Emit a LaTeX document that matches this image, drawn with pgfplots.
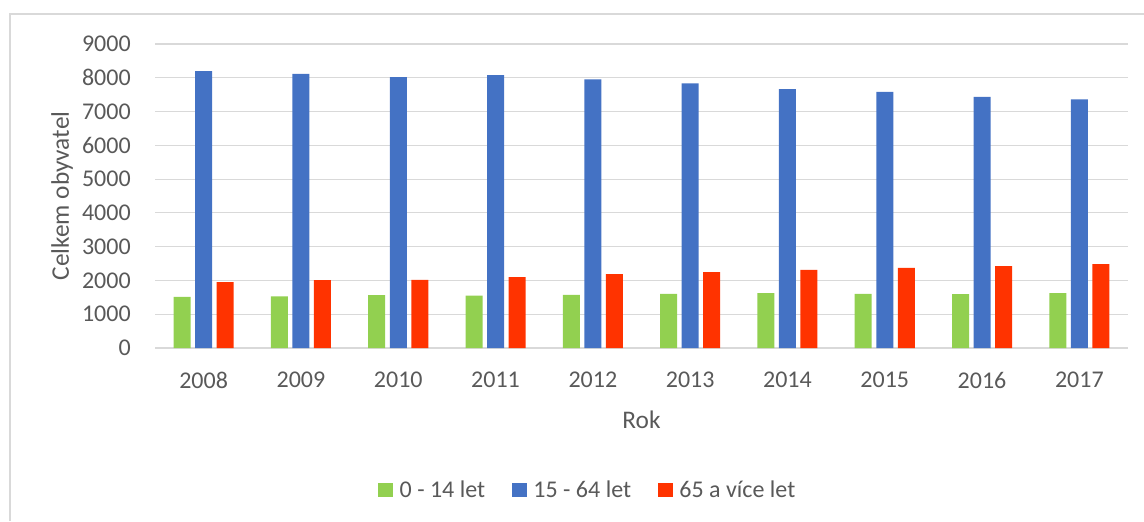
\documentclass[border=0pt]{standalone}
\usepackage{fontspec}
\setmainfont{Carlito}
\usepackage{pgfplots}
\pgfplotsset{compat=1.18}
\definecolor{cgreen}{HTML}{92D050}
\definecolor{cblue}{HTML}{4472C4}
\definecolor{cred}{HTML}{FF3300}
\definecolor{cgrid}{HTML}{D9D9D9}
\definecolor{ctext}{HTML}{595959}
\begin{document}
\begin{tikzpicture}
\draw[cgrid, line width=0.9pt] (7.5pt,0pt) -- (7.5pt,380.25pt) -- (858pt,380.25pt);
\node[rotate=90, anchor=center, font=\fontsize{19}{22}\selectfont, text=ctext] at (46.5pt,243.75pt) {Celkem obyvatel};
\begin{axis}[
  at={(116.25pt,129.75pt)}, anchor=south west,
  width=729.75pt, height=228pt, scale only axis,
  ybar=3.4pt, bar width=12.75pt,
  xmin=-0.5, xmax=9.5, ymin=0, ymax=9000,
  xtick=data,
  xticklabels={2008,2009,2010,2011,2012,2013,2014,2015,2016,2017},
  ytick={0,1000,...,9000},
  /pgf/number format/assume math mode=true,
  /pgf/number format/1000 sep={},
  major tick length=0pt,
  axis line style={draw=none},
  ymajorgrids, grid style={cgrid, line width=0.9pt},
  ticklabel style={font=\fontsize{18}{21}\selectfont, text=ctext},
  yticklabel style={anchor=east, inner sep=0pt, xshift=-18pt},
  xticklabel style={anchor=north, inner sep=0pt, yshift=-18pt},
  xlabel={Rok},
  label style={font=\fontsize{19}{22}\selectfont, text=ctext},
  xlabel style={at={(axis description cs:0.5,-0.2368)}, anchor=center},
  legend style={at={(axis description cs:0.445,-0.467)}, anchor=center, draw=none,
    font=\fontsize{18}{21}\selectfont, text=ctext,
    /tikz/every odd column/.append style={column sep=3pt},
    /tikz/every even column/.append style={column sep=18pt}},
  legend columns=3,
  legend image code/.code={\fill[#1] (0pt,-5.6pt) rectangle (11.25pt,5.6pt);},
]
\addplot[fill=cgreen, draw=none] coordinates {(0,1517) (1,1527) (2,1567) (3,1547) (4,1576) (5,1606) (6,1626) (7,1606) (8,1596) (9,1626)};
\addplot[fill=cblue, draw=none] coordinates {(0,8197) (1,8118) (2,8020) (3,8079) (4,7951) (5,7833) (6,7665) (7,7586) (8,7438) (9,7360)};
\addplot[fill=cred, draw=none] coordinates {(0,1951) (1,2010) (2,2020) (3,2099) (4,2187) (5,2246) (6,2315) (7,2374) (8,2424) (9,2483)};
\legend{0 - 14 let, 15 - 64 let, 65 a více let}
\end{axis}
\pgfresetboundingbox
\path[use as bounding box] (0pt,0pt) rectangle (858pt,390.75pt);
\end{tikzpicture}
\end{document}
